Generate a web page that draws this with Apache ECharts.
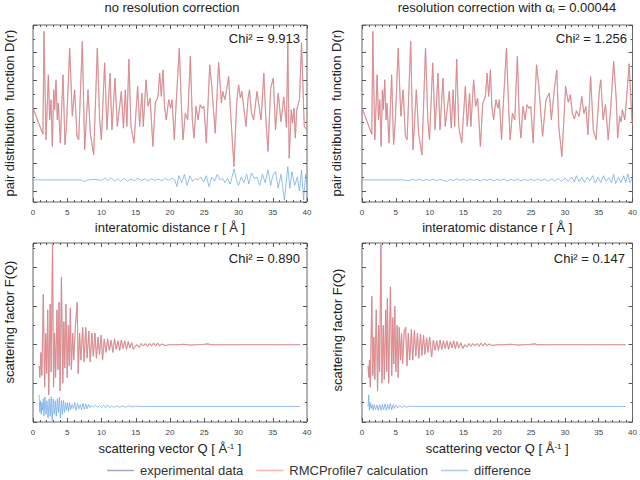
<!DOCTYPE html>
<html><head><meta charset="utf-8">
<script src="https://cdn.jsdelivr.net/npm/echarts@6.0.0/dist/echarts.min.js"></script>
<style>html,body{margin:0;padding:0;background:#fff}#c{width:640px;height:480px}</style>
</head><body><div id="c"></div>
<script>
// ---------- DATA ----------
const panelTitles = ['no resolution correction', 'resolution correction with α{sub|i} = 0.00044'];
const chiLabels = ['Chi² = 9.913', 'Chi² = 1.256', 'Chi² = 0.890', 'Chi² = 0.147'];
const legendNames = ['experimental data', 'RMCProfile7 calculation', 'difference'];

// D(r) calculation, no resolution correction  [r (Å), D(r) offset units]
const pdfCalcNoCorr = [[0,3.0],[1.45,2.05],[1.6,5.77],[1.9,1.85],[2.24,4.2],[2.43,2.57],[2.63,3.3],[2.82,1.61],[3.02,3.66],[3.16,2.94],[3.36,4.02],[3.55,2.57],[3.7,3.18],[3.99,1.73],[4.38,4.2],[4.67,1.67],[4.91,2.45],[5.35,5.17],[5.74,2.7],[6.08,3.66],[6.42,1.97],[6.67,1.85],[7.2,5.41],[7.54,1.49],[8.03,3.66],[8.37,2.09],[8.86,1.3],[9.39,5.17],[9.73,2.57],[9.98,1.85],[10.46,4.63],[10.8,2.21],[11.24,4.26],[11.53,2.21],[11.97,4.08],[12.31,2.33],[12.9,3.6],[13.2,2.27],[13.48,3.66],[13.7,2.33],[14.0,4.77],[14.3,2.33],[14.74,1.73],[15.28,3.78],[15.57,2.33],[15.9,3.54],[16.1,2.33],[16.5,4.02],[16.8,3.06],[17.1,3.36],[17.5,1.61],[17.86,3.18],[18.25,3.42],[18.49,4.26],[18.73,3.42],[18.98,4.38],[19.2,3.06],[19.46,2.57],[19.8,3.3],[20.1,2.99],[20.3,3.3],[20.63,1.85],[20.9,3.18],[21.36,5.17],[21.65,3.18],[21.9,1.85],[22.24,2.81],[22.58,2.57],[22.97,4.87],[23.26,2.57],[23.5,1.91],[23.8,3.06],[24.1,2.57],[24.4,3.12],[24.67,2.99],[24.96,3.06],[25.3,1.73],[25.8,4.56],[26.1,3.78],[26.6,2.09],[27.1,4.65],[27.5,3.18],[27.7,3.6],[28.0,3.3],[28.27,3.66],[28.56,4.14],[28.85,2.81],[29.34,0.88],[29.73,3.18],[30.02,3.84],[30.27,3.36],[30.5,3.6],[30.8,2.94],[31.1,2.33],[31.4,3.36],[31.6,3.66],[31.9,2.81],[32.2,2.57],[32.7,3.6],[32.94,3.18],[33.3,2.57],[33.7,4.26],[34.0,2.57],[34.3,1.43],[34.7,3.72],[35.08,4.08],[35.4,2.21],[35.8,3.54],[36.2,2.5],[36.6,3.4],[37.0,2.3],[37.2,5.35],[37.4,1.18],[37.7,2.94],[37.9,2.45],[38.1,3.0],[38.3,1.91],[38.5,2.94],[38.9,3.3],[39.2,5.35],[39.6,2.33],[40,2.2]];

// D(r) calculation, with resolution correction
const pdfCalcCorr = [[0,3.0],[1.45,2.05],[1.6,5.77],[1.9,1.85],[2.24,4.2],[2.43,2.57],[2.63,3.3],[2.82,1.61],[3.02,3.66],[3.16,2.94],[3.36,4.02],[3.55,2.57],[3.7,3.18],[3.99,1.73],[4.38,4.2],[4.67,1.67],[4.91,2.45],[5.35,5.17],[5.74,2.7],[6.08,3.66],[6.42,1.97],[6.67,1.85],[7.2,5.41],[7.54,1.49],[8.03,3.66],[8.37,2.09],[8.86,1.3],[9.39,5.17],[9.73,2.57],[9.98,1.85],[10.46,4.63],[10.8,2.21],[11.24,4.26],[11.53,2.21],[11.97,4.08],[12.31,2.33],[12.9,3.6],[13.2,2.27],[13.48,3.66],[13.7,2.33],[14.0,4.77],[14.3,2.33],[14.74,1.73],[15.28,3.78],[15.57,2.33],[15.9,3.54],[16.1,2.33],[16.5,4.02],[16.8,3.06],[17.1,3.36],[17.5,1.61],[17.86,3.18],[18.25,3.42],[18.49,4.26],[18.73,3.42],[18.98,4.38],[19.2,3.06],[19.46,2.57],[19.8,3.3],[20.1,2.99],[20.3,3.3],[20.63,1.85],[20.9,3.18],[21.36,5.17],[21.65,3.18],[21.9,1.85],[22.24,2.81],[22.58,2.57],[22.97,4.87],[23.26,2.57],[23.5,1.91],[23.8,3.06],[24.1,2.57],[24.4,3.12],[24.67,2.99],[24.96,3.06],[25.3,1.73],[25.8,4.56],[26.1,3.9],[26.7,1.97],[27.2,3.3],[27.7,3.54],[28.0,2.57],[28.4,3.6],[28.8,4.38],[29.1,2.3],[29.55,1.24],[29.9,2.8],[30.1,3.78],[30.5,3.2],[30.8,3.48],[31.1,2.81],[31.4,2.6],[31.7,2.9],[32.1,2.7],[32.5,3.42],[32.8,2.8],[33.1,3.05],[33.4,2.03],[33.8,4.14],[34.2,2.21],[34.6,1.85],[35.1,3.66],[35.3,4.02],[35.65,2.57],[36.0,3.12],[36.4,1.85],[36.8,3.1],[37.2,4.69],[37.6,3.3],[37.8,1.91],[38.1,2.7],[38.3,2.5],[38.5,2.94],[38.85,2.57],[39.1,3.3],[39.5,4.6],[39.9,2.57],[40,2.4]];

// D(r) difference curves (offset)
const pdfDiffNoCorr = [[0,0.4],[7.0,0.4],[7.5,0.33],[8.0,0.4],[9.0,0.42],[10.0,0.38],[10.5,0.47],[10.9,0.37],[11.4,0.48],[11.9,0.35],[12.4,0.44],[12.8,0.35],[13.3,0.45],[13.8,0.36],[14.3,0.44],[14.8,0.37],[15.3,0.45],[15.8,0.38],[16.3,0.43],[16.8,0.36],[17.3,0.44],[17.8,0.38],[18.3,0.43],[18.8,0.37],[19.3,0.45],[19.8,0.38],[20.3,0.47],[20.7,0.4],[21.0,0.16],[21.3,0.55],[21.7,0.3],[22.1,0.6],[22.5,0.2],[22.9,0.55],[23.3,0.35],[23.7,0.45],[24.1,0.4],[24.5,0.5],[24.9,0.33],[25.3,0.55],[25.7,0.16],[26.1,0.5],[26.5,0.35],[26.9,0.6],[27.3,0.4],[27.7,0.45],[28.0,0.3],[28.4,0.45],[28.8,0.25],[29.35,0.8],[29.7,0.4],[30.0,0.2],[30.4,0.5],[30.8,0.3],[31.2,0.6],[31.5,0.25],[31.9,0.65],[32.3,0.45],[32.7,0.5],[33.1,0.2],[33.5,0.6],[33.9,0.3],[34.3,0.76],[34.7,0.2],[35.0,0.55],[35.4,0.7],[35.8,0.1],[36.2,0.6],[36.7,-0.33],[37.2,0.88],[37.5,0.1],[37.8,0.7],[38.2,0.2],[38.6,0.5],[38.9,0.0],[39.2,0.75],[39.5,-0.33],[39.8,0.6],[40,0.3]];
const pdfDiffCorr = [[0,0.4],[6,0.4],[7,0.37],[7.5,0.42],[8,0.38],[8.5,0.43],[9,0.37],[9.5,0.42],[10,0.38],[10.5,0.43],[11,0.37],[11.5,0.42],[12,0.38],[12.5,0.34],[13,0.42],[13.5,0.37],[14,0.44],[14.5,0.38],[15,0.42],[15.5,0.37],[16,0.43],[16.5,0.38],[17,0.42],[17.5,0.36],[18,0.42],[18.5,0.38],[19,0.43],[19.5,0.37],[20,0.42],[20.5,0.38],[21,0.43],[21.5,0.36],[22,0.42],[22.5,0.37],[23,0.44],[23.5,0.36],[24,0.42],[24.5,0.38],[25,0.43],[25.5,0.36],[26,0.44],[26.5,0.37],[27,0.43],[27.5,0.35],[28,0.44],[28.5,0.36],[29,0.45],[29.5,0.34],[30,0.46],[30.5,0.35],[31,0.5],[31.4,0.32],[31.7,0.55],[32.1,0.33],[32.5,0.5],[32.9,0.3],[33.3,0.5],[33.7,0.36],[34.1,0.55],[34.5,0.28],[34.9,0.5],[35.3,0.3],[35.7,0.55],[36.1,0.35],[36.5,0.48],[36.9,0.3],[37.2,0.6],[37.5,0.27],[37.9,0.5],[38.3,0.3],[38.7,0.55],[39.0,0.3],[39.3,0.62],[39.6,0.3],[40,0.45]];

// F(Q) calculation [Q (1/Å), F(Q) offset units]
const sqCalcNoCorr = [[0.9,0.45],[1.0,0.15],[1.15,0.8],[1.3,0.2],[1.5,2.3],[1.7,-0.1],[1.85,1.3],[2.0,0.25],[2.15,1.9],[2.3,-0.3],[2.5,2.05],[2.65,0.3],[2.85,3.6],[3.0,-0.1],[3.15,1.3],[3.3,0.15],[3.5,1.9],[3.65,0.35],[3.8,2.1],[3.95,-0.2],[4.15,2.75],[4.35,0.0],[4.5,1.6],[4.65,0.4],[4.8,2.05],[5.0,0.15],[5.15,1.5],[5.3,0.45],[5.45,1.95],[5.6,0.35],[5.8,1.3],[5.95,0.6],[6.2,1.5],[6.45,2.1],[6.6,0.25],[6.8,1.3],[7.0,0.6],[7.25,1.45],[7.45,0.55],[7.7,1.45],[7.9,0.65],[8.15,1.35],[8.35,0.55],[8.6,1.3],[8.8,0.7],[9.05,1.3],[9.25,0.65],[9.5,1.2],[9.7,0.75],[9.95,1.25],[10.15,0.6],[10.4,1.15],[10.65,0.8],[10.9,1.15],[11.15,0.85],[11.4,1.12],[11.65,0.8],[11.9,1.15],[12.15,0.88],[12.4,1.1],[12.65,0.85],[12.9,1.12],[13.15,0.9],[13.4,1.1],[13.65,0.88],[13.9,1.08],[14.15,0.92],[14.4,1.05],[14.65,0.88],[14.9,0.95],[15.2,1.0],[15.5,0.93],[15.8,1.03],[16.1,0.97],[16.4,1.03],[16.7,0.96],[17.0,1.03],[17.3,0.97],[17.6,1.04],[17.9,0.97],[18.2,1.04],[18.5,0.97],[18.8,1.02],[19.2,0.98],[20,1.0],[21,1.0],[22,1.01],[23,0.99],[24,1.0],[25,1.01],[25.5,1.02],[26,1.0],[28,1.0],[30,1.0],[33,1.0],[36,1.0],[39,1.0]];
const sqCalcCorr = [[0.9,0.45],[1.0,0.15],[1.1,0.6],[1.23,-0.1],[1.45,2.25],[1.6,0.2],[1.75,1.2],[1.9,0.1],[2.1,1.9],[2.3,-0.2],[2.45,1.5],[2.6,0.3],[2.8,3.6],[2.95,0.0],[3.15,1.5],[3.3,0.1],[3.5,1.9],[3.65,0.3],[3.75,2.2],[3.95,0.0],[4.2,2.5],[4.4,0.2],[4.55,1.7],[4.7,0.5],[4.85,2.0],[5.0,0.3],[5.2,1.5],[5.35,0.15],[5.5,1.45],[5.7,0.6],[5.85,1.3],[6.0,0.5],[6.25,1.35],[6.45,1.45],[6.65,0.45],[6.85,1.3],[7.05,0.6],[7.3,1.4],[7.5,0.6],[7.75,1.38],[7.95,0.7],[8.2,1.3],[8.4,0.65],[8.65,1.28],[8.85,0.72],[9.1,1.25],[9.3,0.75],[9.55,1.18],[9.75,0.8],[10.0,1.2],[10.3,0.68],[10.55,1.12],[10.8,0.85],[11.05,1.1],[11.3,0.85],[11.55,1.12],[11.8,0.88],[12.05,1.1],[12.3,0.9],[12.55,1.1],[12.8,0.88],[13.05,1.08],[13.3,0.92],[13.55,1.1],[13.8,0.9],[14.05,1.08],[14.3,0.92],[14.6,1.05],[14.9,0.9],[15.2,1.0],[15.5,0.94],[15.8,1.03],[16.1,0.96],[16.4,1.03],[16.7,0.97],[17.0,1.03],[17.3,0.96],[17.6,1.04],[17.9,0.97],[18.2,1.04],[18.5,0.97],[18.8,1.02],[19.2,0.98],[20,1.0],[21,1.0],[22,1.01],[23,0.99],[24,1.0],[25,1.01],[25.5,1.02],[26,1.0],[28,1.0],[30,1.0],[33,1.0],[36,1.0],[39,1.0]];

// F(Q) difference curves (offset)
const sqDiffNoCorr = [[0.9,-0.3],[1.0,-0.75],[1.1,-0.45],[1.2,-0.8],[1.3,-0.5],[1.4,-0.7],[1.5,-0.4],[1.6,-0.85],[1.75,-0.35],[1.9,-0.8],[2.05,-0.45],[2.2,-0.9],[2.35,-0.4],[2.5,-0.85],[2.65,-0.35],[2.8,-0.96],[2.95,-0.4],[3.1,-0.8],[3.25,-0.45],[3.4,-0.85],[3.55,-0.4],[3.7,-0.75],[3.85,-0.36],[4.0,-0.9],[4.15,-0.45],[4.3,-0.8],[4.45,-0.45],[4.6,-0.75],[4.75,-0.5],[4.9,-0.7],[5.05,-0.5],[5.2,-0.72],[5.35,-0.5],[5.5,-0.68],[5.7,-0.55],[5.9,-0.65],[6.1,-0.5],[6.3,-0.7],[6.5,-0.52],[6.7,-0.66],[6.9,-0.55],[7.1,-0.68],[7.3,-0.52],[7.5,-0.67],[7.7,-0.53],[7.9,-0.66],[8.1,-0.55],[8.3,-0.63],[8.5,-0.57],[8.8,-0.62],[9.1,-0.57],[9.4,-0.62],[9.7,-0.58],[10.0,-0.63],[10.3,-0.56],[10.6,-0.63],[10.9,-0.56],[11.2,-0.63],[11.5,-0.58],[11.8,-0.62],[12.2,-0.58],[12.6,-0.62],[13,-0.58],[13.5,-0.62],[14,-0.58],[14.5,-0.61],[15,-0.59],[16,-0.6],[39,-0.6]];
const sqDiffCorr = [[0.9,-0.6],[1.0,-0.3],[1.1,-0.7],[1.2,-0.5],[1.35,-0.65],[1.5,-0.55],[1.65,-0.7],[1.8,-0.55],[2.0,-0.68],[2.2,-0.56],[2.4,-0.7],[2.6,-0.55],[2.8,-0.7],[3.0,-0.55],[3.2,-0.68],[3.4,-0.53],[3.6,-0.7],[3.8,-0.55],[4.0,-0.67],[4.2,-0.52],[4.4,-0.68],[4.6,-0.55],[4.8,-0.65],[5.0,-0.56],[5.3,-0.64],[5.6,-0.57],[5.9,-0.63],[6.2,-0.58],[6.6,-0.62],[7.0,-0.59],[8,-0.6],[39,-0.6]];

// ---------- CHART ----------
const FONT = '"Liberation Sans", Arial, Helvetica, sans-serif';
const TICK = '#555';
const grids = [
  {left:33, top:25, width:274, height:177, show:true, borderColor:'#666', borderWidth:1},
  {left:362, top:25, width:271, height:177, show:true, borderColor:'#666', borderWidth:1},
  {left:33, top:243, width:274, height:179, show:true, borderColor:'#666', borderWidth:1},
  {left:362, top:243, width:271, height:179, show:true, borderColor:'#666', borderWidth:1}
];
const xNames = ['interatomic distance r [ Å ]', 'interatomic distance r [ Å ]', 'scattering vector Q [ Å{sup|-1} ]', 'scattering vector Q [ Å{sup|-1} ]'];
const tickStyle = {inside:true, length:4, lineStyle:{color:TICK, width:1}};
const minorStyle = (n)=>({show:true, splitNumber:n, length:2, lineStyle:{color:TICK, width:1}});
const noLine = {show:false, onZero:false};

const xAxis = [], yAxis = [], series = [];
const dataY = [];
grids.forEach((g, gi)=>{
  xAxis.push({gridIndex:gi, type:'value', min:0, max:40, interval:5, position:'bottom',
    axisLine:noLine, splitLine:{show:false}, axisTick:tickStyle, minorTick:minorStyle(5),
    axisLabel:{fontSize:8, color:'#444', margin:6, fontFamily:FONT},
    name:xNames[gi], nameLocation:'middle', nameGap:gi<2?19:20,
    nameTextStyle:{fontSize:13, color:'#222', fontFamily:FONT,
      rich:{sup:{fontSize:8, color:'#222', fontFamily:FONT, verticalAlign:'top', lineHeight:12}}}});
  xAxis.push({gridIndex:gi, type:'value', min:0, max:40, interval:5, position:'top',
    axisLine:noLine, splitLine:{show:false}, axisTick:tickStyle, minorTick:minorStyle(5),
    axisLabel:{show:false}});
  if (gi < 2) {
    dataY.push(yAxis.length);
    yAxis.push({gridIndex:gi, type:'value', min:-0.4, max:6, position:'left',
      axisLine:noLine, splitLine:{show:false}, axisTick:{show:false}, axisLabel:{show:false}});
    ['left','right'].forEach(p=>yAxis.push({gridIndex:gi, type:'value', inverse:true, min:0, max:6.4, interval:1, position:p,
      axisLine:noLine, splitLine:{show:false}, axisTick:tickStyle, minorTick:minorStyle(2), axisLabel:{show:false}}));
  } else {
    dataY.push(yAxis.length);
    ['left','right'].forEach(p=>yAxis.push({gridIndex:gi, type:'value', min:-1, max:3.63, interval:1, position:p,
      axisLine:noLine, splitLine:{show:false}, axisTick:tickStyle, minorTick:minorStyle(2), axisLabel:{show:false}}));
  }
});

const panelData = [
  [pdfCalcNoCorr, pdfCalcNoCorr, pdfDiffNoCorr],
  [pdfCalcCorr, pdfCalcCorr, pdfDiffCorr],
  [sqCalcNoCorr, sqCalcNoCorr, sqDiffNoCorr],
  [sqCalcCorr, sqCalcCorr, sqDiffCorr]
];
const styles = [
  {color:'#8a6a80', width:0.6, opacity:0.8, legendColor:'#a8a4c0'},
  {color:'#ea7f7f', width:1.1, opacity:0.7, legendColor:'#f2b4b4'},
  {color:'#6aa6ea', width:0.9, opacity:0.8, legendColor:'#aecbea'}
];
panelData.forEach((arrs, gi)=>{
  arrs.forEach((d, si)=>{
    series.push({type:'line', name:legendNames[si], xAxisIndex:gi*2, yAxisIndex:dataY[gi],
      data:d, symbol:'none', showSymbol:false, silent:true, animation:false,
      color:styles[si].legendColor,
      lineStyle:{color:styles[si].color, width:styles[si].width, opacity:styles[si].opacity}});
  });
});

const txt = (x, y, text, align, extra) => Object.assign({type:'text', x, y,
  style:Object.assign({text, fontSize:13, fontFamily:FONT, fill:'#222', align, verticalAlign:'middle'}, extra||{})});
const graphic = [
  txt(172, 7, panelTitles[0], 'center'),
  txt(507, 7, panelTitles[1], 'center', {rich:{sub:{fontSize:8, fontFamily:FONT, fill:'#222', verticalAlign:'bottom', padding:[6,0,0,0]}}}),
  txt(300, 38, chiLabels[0], 'right'),
  txt(627, 38, chiLabels[1], 'right'),
  txt(300, 258, chiLabels[2], 'right'),
  txt(625, 258, chiLabels[3], 'right'),
  Object.assign(txt(9, 113, 'pair distribution  function D(r)', 'center'), {rotation:Math.PI/2}),
  Object.assign(txt(336, 113, 'pair distribution  function D(r)', 'center'), {rotation:Math.PI/2}),
  Object.assign(txt(9, 322, 'scattering factor F(Q)', 'center'), {rotation:Math.PI/2}),
  Object.assign(txt(337, 330, 'scattering factor F(Q)', 'center'), {rotation:Math.PI/2})
];

const chart = echarts.init(document.getElementById('c'), null, {renderer:'svg', width:640, height:480});
chart.setOption({
  animation:false,
  backgroundColor:'#fff',
  grid:grids, xAxis, yAxis, series, graphic,
  legend:{data:legendNames, left:107, top:464, icon:'rect', itemWidth:27, itemHeight:1.5, itemGap:13, padding:0,
    textStyle:{fontSize:13, color:'#333', fontFamily:FONT, padding:[0,0,0,1]}, selectedMode:false}
});
</script></body></html>
